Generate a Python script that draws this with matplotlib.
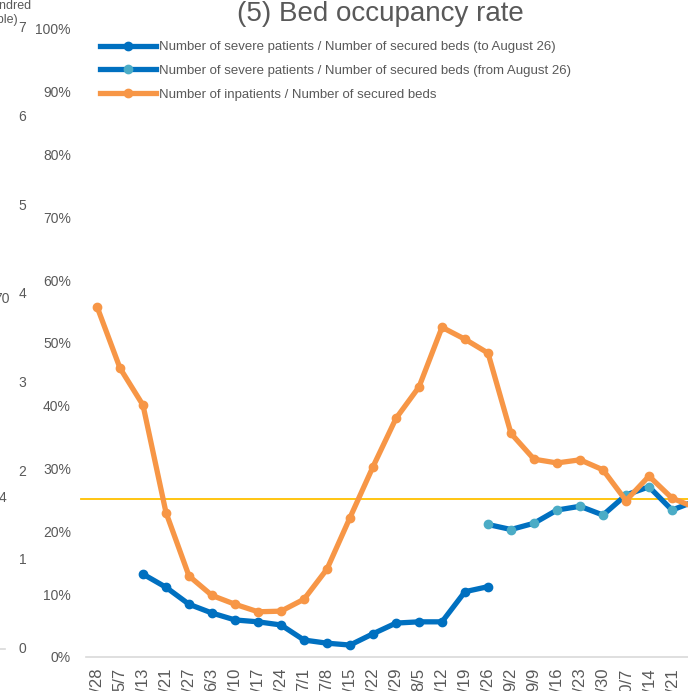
"""Bed occupancy rate line chart"""
import numpy as np
import matplotlib.pyplot as plt

plt.rcParams['font.family'] = ['Liberation Sans', 'DejaVu Sans']

# weekly dates (last one falls off the right edge of the picture)
dates = ["4/28", "5/7", "5/13", "5/21", "5/27", "6/3", "6/10", "6/17", "6/24",
         "7/1", "7/8", "7/15", "7/22", "7/29", "8/5", "8/12", "8/19", "8/26",
         "9/2", "9/9", "9/16", "9/23", "9/30", "10/7", "10/14", "10/21", "10/28"]

# rates in percent, nan = no value
inpatient_rate = [55.8, 46.0, 40.1, 23.0, 12.9, 9.8, 8.4, 7.2, 7.3, 9.2,
                  14.0, 22.2, 30.3, 38.0, 43.0, 52.5, 50.6, 48.4, 35.6, 31.5,
                  30.9, 31.4, 29.8, 24.9, 28.8, 25.3, 23.8]
severe_rate_old = [np.nan, np.nan, 13.2, 11.1, 8.4, 7.0, 5.9, 5.6, 5.1, 2.7,
                   2.2, 1.9, 3.7, 5.4, 5.6, 5.6, 10.4, 11.2] + [np.nan] * 9
severe_rate_new = [np.nan] * 17 + [21.1, 20.3, 21.3, 23.4, 24.0, 22.6, 25.8,
                                   27.1, 23.4, 24.8]
threshold = 25.2

# leftovers of the neighbouring chart on the left edge
left_axis_ticks = [0, 1, 2, 3, 4, 5, 6, 7]

GRAY = "#595959"
BLUE = "#0070C0"
LIGHT_BLUE = "#4BACC6"
ORANGE = "#F79646"
YELLOW = "#FFC000"

W, H = 688, 691
fig = plt.figure(figsize=(W / 100, H / 100), dpi=100)
ax = fig.add_axes([85.5 / W, (H - 657) / H, 621 / W, 628 / H])

x = np.arange(len(dates))
lw, ms = 3.8, 6.0
ax.axhline(threshold, xmin=-0.007, xmax=1, color=YELLOW, lw=1.3, clip_on=False, zorder=2)
ax.plot(x, severe_rate_old, color=BLUE, lw=lw, marker="o", ms=ms,
        label="Number of severe patients / Number of secured beds (to August 26)", zorder=3)
ax.plot(x, severe_rate_new, color=BLUE, lw=lw, marker="o", ms=ms,
        markerfacecolor=LIGHT_BLUE, markeredgecolor=LIGHT_BLUE,
        label="Number of severe patients / Number of secured beds (from August 26)", zorder=3)
ax.plot(x, inpatient_rate, color=ORANGE, lw=lw, marker="o", ms=ms,
        label="Number of inpatients / Number of secured beds", zorder=4)

ax.set_xlim(-0.5, len(dates) - 0.5)
ax.set_ylim(0, 100)
ax.set_yticks(np.arange(0, 101, 10))
ax.set_yticklabels([f"{v}%" for v in range(0, 101, 10)])
ax.set_xticks(x)
ax.set_xticklabels(dates, rotation=90, va="top", ha="center")
ax.tick_params(axis="y", length=0, pad=10.5, labelsize=10, labelcolor=GRAY)
ax.tick_params(axis="x", length=0, pad=7.5, labelsize=12, labelcolor=GRAY)
for s in ["top", "right", "left"]:
    ax.spines[s].set_visible(False)
ax.spines["bottom"].set_color("#D9D9D9")
ax.spines["bottom"].set_linewidth(1.2)

leg = ax.legend(loc="upper left", bbox_to_anchor=(100 / W, 1 - 41 / H),
                bbox_transform=fig.transFigure, frameon=False, fontsize=9.5,
                handlelength=4.25, handletextpad=0.22, labelspacing=0.87,
                borderpad=0, borderaxespad=0)
for t in leg.get_texts():
    t.set_color(GRAY)

fig.text(380 / W, 1 - 21 / H, "(5) Bed occupancy rate", ha="center",
         va="baseline", fontsize=20, color=GRAY)

# cut-off pieces of the chart next door
for v in left_axis_ticks:
    fig.text(22.5 / W, 1 - (649 - v * 88.7) / H, str(v), ha="center",
             va="center", fontsize=10, color=GRAY)
fig.text(31 / W, 1 - 6 / H, "(hundred", ha="right", va="center", fontsize=9, color=GRAY)
fig.text(17.5 / W, 1 - 20 / H, "people)", ha="right", va="center", fontsize=9, color=GRAY)
fig.text(10 / W, 1 - 299 / H, "70", ha="right", va="center", fontsize=10, color=GRAY)
fig.text(6 / W, 1 - 498 / H, "4", ha="right", va="center", fontsize=10, color=GRAY)
fig.add_artist(plt.Line2D([0, 4.5 / W], [1 - 649 / H] * 2, color="#D9D9D9", lw=1.2))

fig.savefig("out.png", dpi=100)
